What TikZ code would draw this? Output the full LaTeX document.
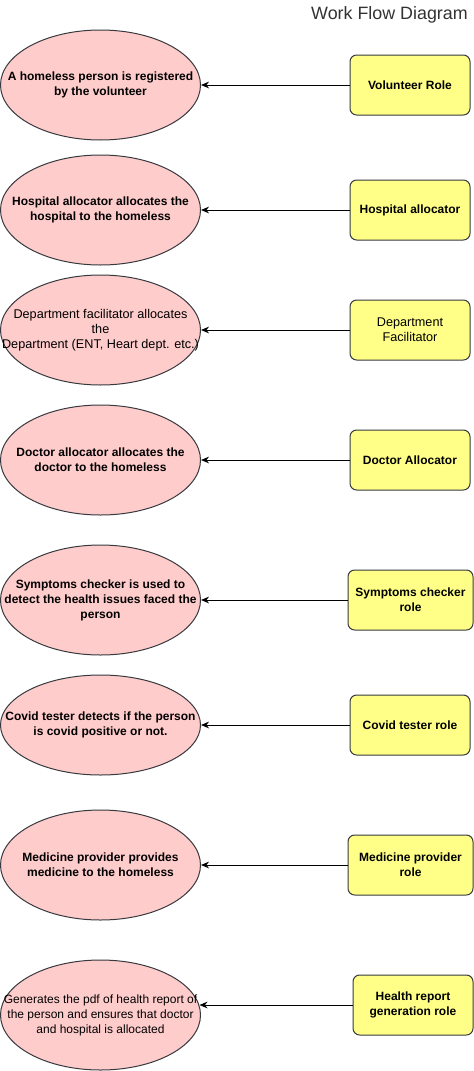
\documentclass[tikz,border=0pt]{standalone}
\usepackage{fontspec}
\setmainfont{Liberation Sans}
\usetikzlibrary{arrows.meta,shapes.geometric,calc}
\definecolor{pinkfill}{HTML}{FFCCCC}
\definecolor{yellowfill}{HTML}{FFFF88}
\definecolor{edgegray}{HTML}{36393D}
\definecolor{titlegray}{HTML}{333333}
\begin{document}
\begin{tikzpicture}[x=0.75pt,y=-0.75pt,
  usecase/.style={ellipse, draw=edgegray, fill=pinkfill, line width=0.75pt,
    minimum width=150pt, minimum height=82.5pt, inner xsep=-40pt, inner ysep=-25pt, align=center,
    text=black, font=\bfseries\fontsize{9}{11.25}\selectfont},
  rolebox/.style={rectangle, rounded corners=5pt, draw=edgegray, fill=yellowfill, line width=0.75pt,
    minimum width=90pt, minimum height=45pt, inner sep=0pt, align=center,
    text=black, font=\bfseries\fontsize{9}{11.25}\selectfont},
  plaintext/.style={font=\fontsize{9.5}{11.25}\selectfont},
  arr/.style={-{Stealth[length=6pt,width=5pt]}, line width=0.75pt, black}]
\useasboundingbox (0,0) rectangle (474,1071);

\node[anchor=east, text=titlegray, font=\fontsize{13.4}{16}\selectfont, inner sep=0pt] (title) at (468,15) {Work Flow Diagram};

% ellipses
\node[usecase] (e1) at (100.5,85) {A homeless person is registered\\by the volunteer};
\node[usecase] (e2) at (100.5,210) {Hospital allocator allocates the\\hospital to the homeless};
\node[usecase, plaintext] (e3) at (100.5,330) {Department facilitator allocates\\the\\Department (ENT, Heart dept. etc.)};
\node[usecase] (e4) at (100.5,460) {Doctor allocator allocates the\\doctor to the homeless};
\node[usecase] (e5) at (100.5,600) {Symptoms checker is used to\\detect the health issues faced the\\person};
\node[usecase, minimum height=75pt] (e6) at (100.5,725) {Covid tester detects if the person\\is covid positive or not.};
\node[usecase] (e7) at (100.5,865) {Medicine provider provides\\medicine to the homeless};
\node[usecase, font=\fontsize{9}{11.25}\selectfont] (e8) at (100.5,1015) {Generates the pdf of health report of\\the person and ensures that doctor\\and hospital is allocated};

% role boxes
\node[rolebox] (b1) at (410,85) {Volunteer Role};
\node[rolebox] (b2) at (410,210) {Hospital allocator};
\node[rolebox, plaintext] (b3) at (410,330) {Department\\Facilitator};
\node[rolebox] (b4) at (410,460) {Doctor Allocator};
\node[rolebox, minimum width=93.75pt] (b5) at (410.5,600) {Symptoms checker\\role};
\node[rolebox] (b6) at (410,725) {Covid tester role};
\node[rolebox, minimum width=93.75pt] (b7) at (410.5,865) {Medicine provider\\role};
\node[rolebox] (b8) at (413,1005) {Health report\\generation role};

% connectors
\draw[arr] (b1.west) -- (e1.east);
\draw[arr] (b2.west) -- (e2.east);
\draw[arr] (b3.west) -- (e3.east);
\draw[arr] (b4.west) -- (e4.east);
\draw[arr] (b5.west) -- (e5.east);
\draw[arr] (b6.west) -- (e6.east);
\draw[arr] (b7.west) -- (e7.east);
\coordinate (t8) at ($(b8.west -| e8.east)+(-1.5,0)$);
\draw[arr] (b8.west) -- (t8);
\end{tikzpicture}
\end{document}
